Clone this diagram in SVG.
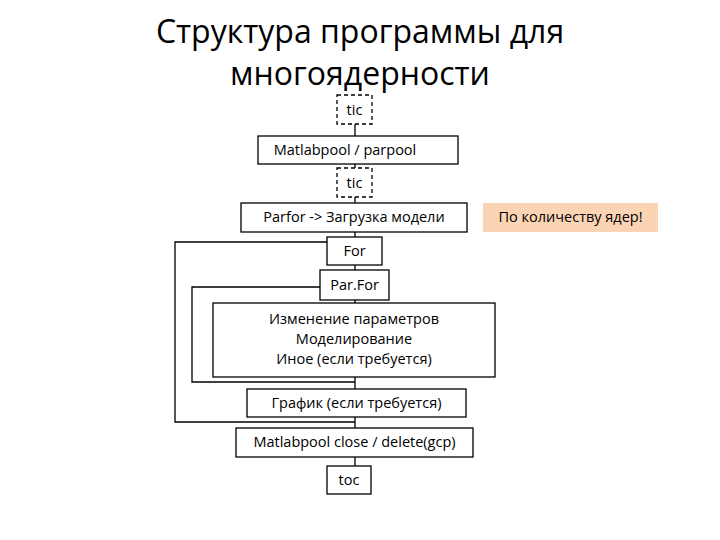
<svg xmlns="http://www.w3.org/2000/svg" width="720" height="540" viewBox="0 0 720 540">
<style>
.b{fill:#fff;stroke:#000;stroke-width:1.3}
.d{fill:#fff;stroke:#000;stroke-width:1.3;stroke-dasharray:4,3}
.t{font-family:"Open Sans","Liberation Sans",sans-serif;font-size:14.5px;text-anchor:middle;fill:#000}
.h{font-family:"Open Sans","Liberation Sans",sans-serif;font-size:32px;text-anchor:middle;fill:#000}
.c{fill:none;stroke:#000;stroke-width:1.3}
</style>
<rect width="720" height="540" fill="#fff"/>
<text class="h" x="360" y="43">Структура программы для</text>
<text class="h" x="360" y="85">многоядерности</text>
<g id="connectors">
<path class="c" d="M355 124V136M355 164V168M355 197V203M355 232V237M355 265V270M355 300V303M355 377V389M355 417V428M355 457V466"/>
<path class="c" d="M327 242H175V422H355"/>
<path class="c" d="M320 287H192V382H355"/>
</g>
<g id="tic1"><rect class="d" x="337" y="95" width="35" height="29"/><text class="t" x="354.5" y="115">tic</text></g>
<g id="matlabpool"><rect class="b" x="258" y="136" width="200" height="28"/><text class="t" x="345" y="155">Matlabpool / parpool</text></g>
<g id="tic2"><rect class="d" x="337" y="168" width="35" height="29"/><text class="t" x="354.5" y="188">tic</text></g>
<g id="parfor"><rect class="b" x="241" y="203" width="226" height="29"/><text class="t" x="354" y="222">Parfor -&gt; Загрузка модели</text></g>
<g id="note"><rect x="483" y="203" width="175" height="29" fill="#fbd4b4"/><text class="t" x="570.5" y="222">По количеству ядер!</text></g>
<g id="for"><rect class="b" x="327" y="237" width="55" height="28"/><text class="t" x="354.5" y="256">For</text></g>
<g id="parfor2"><rect class="b" x="320" y="270" width="69" height="30"/><text class="t" x="354.5" y="290">Par.For</text></g>
<g id="body"><rect class="b" x="213" y="303" width="282" height="74"/><text class="t" x="354" y="324">Изменение параметров</text><text class="t" x="354" y="344">Моделирование</text><text class="t" x="354" y="364">Иное (если требуется)</text></g>
<g id="graph"><rect class="b" x="247" y="389" width="219" height="28"/><text class="t" x="356.5" y="408">График (если требуется)</text></g>
<g id="close"><rect class="b" x="236" y="428" width="237" height="29"/><text class="t" x="354.5" y="447">Matlabpool close / delete(gcp)</text></g>
<g id="toc"><rect class="b" x="327" y="466" width="44" height="28"/><text class="t" x="349" y="485">toc</text></g>
</svg>
